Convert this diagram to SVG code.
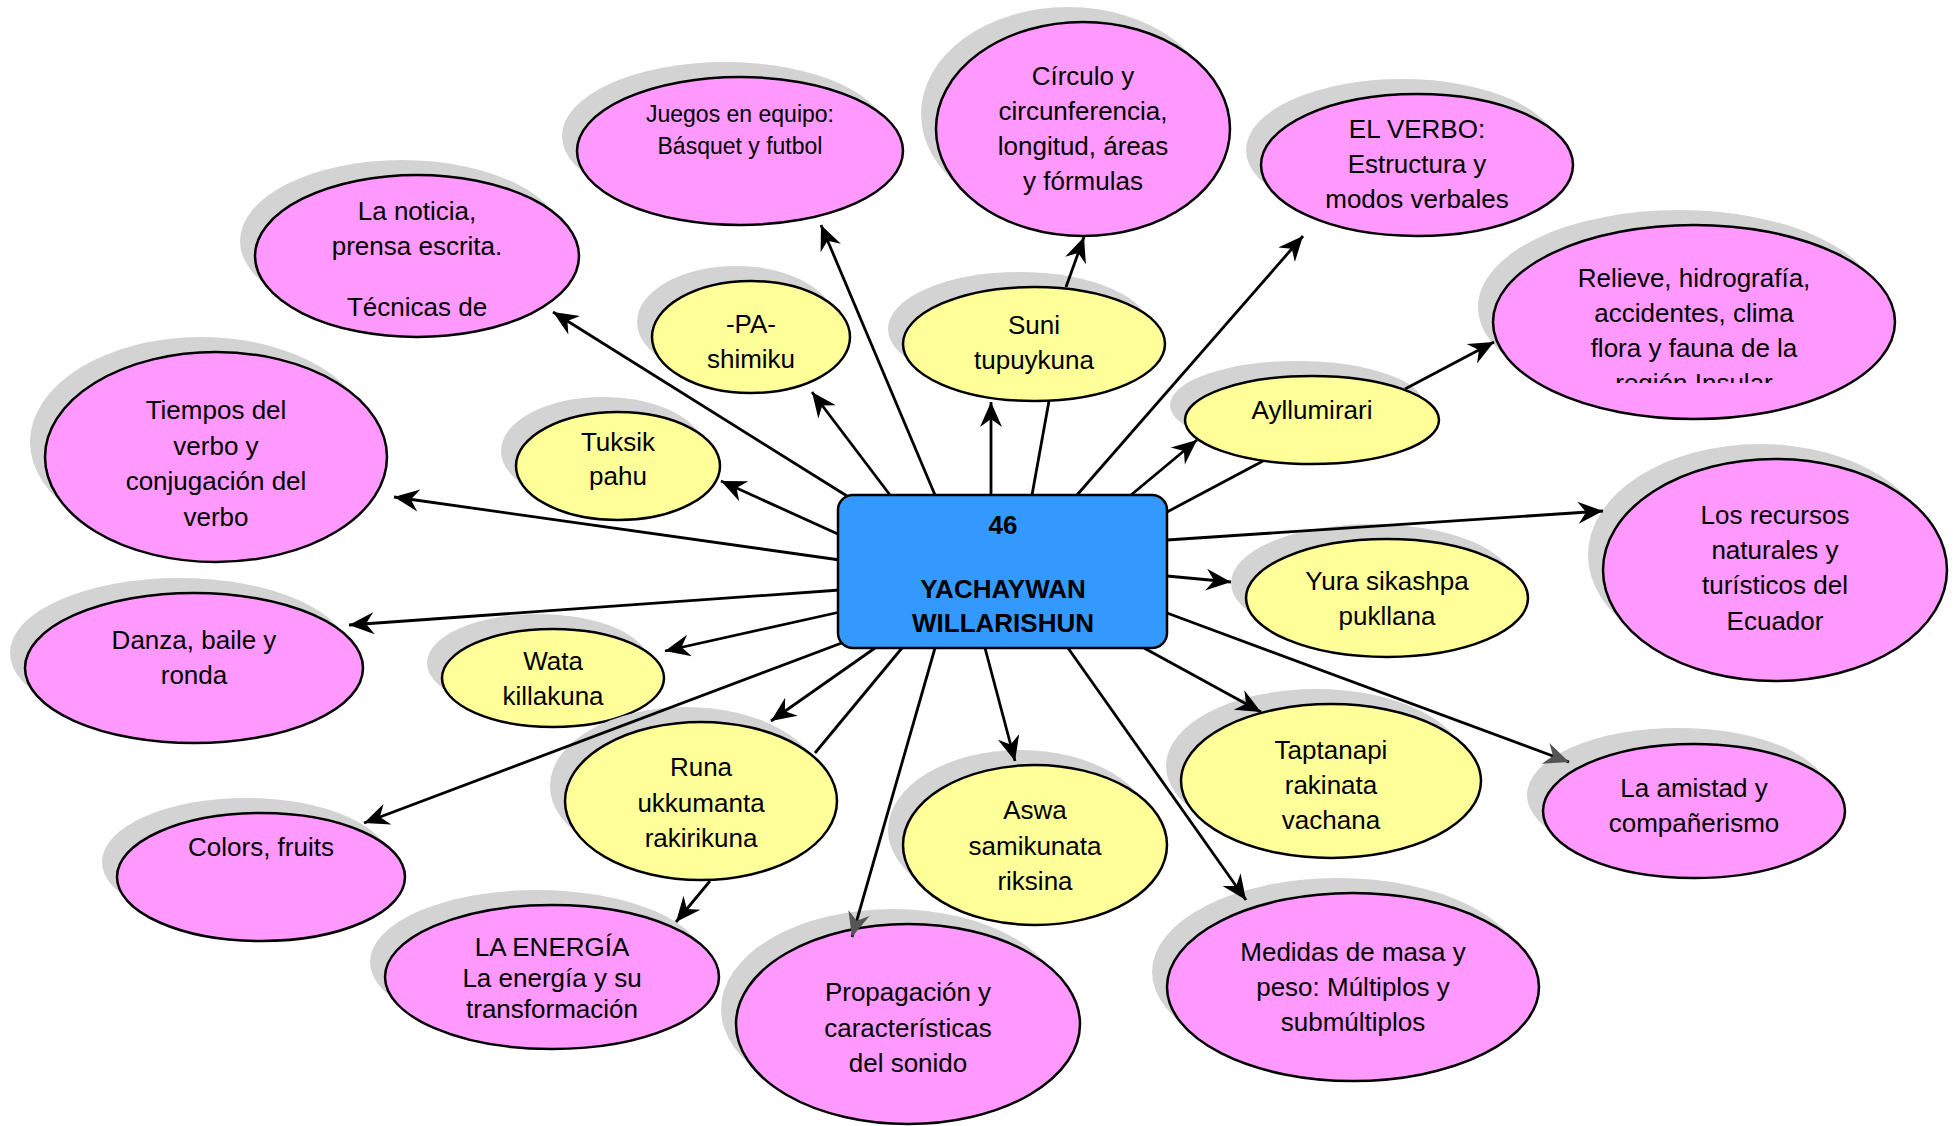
<svg xmlns="http://www.w3.org/2000/svg" width="1959" height="1126" viewBox="0 0 1959 1126">
<style>
  .sh { fill: #d3d3d3; }
  .pk { fill: #ff99ff; stroke: #000; stroke-width: 2.5; }
  .yl { fill: #ffff99; stroke: #000; stroke-width: 2.5; }
  .t { font-family: "Liberation Sans", Arial, sans-serif; font-size: 26px; fill: #000; text-anchor: middle; }
  .ts { font-size: 23px; }
  .tb { font-weight: bold; }
  .c { stroke: #000; stroke-width: 2.8; fill: none; }
  .a { marker-end: url(#arr); }
  .ag { marker-end: url(#arrg); }
</style>
<defs>
  <marker id="arr" markerUnits="userSpaceOnUse" viewBox="-26 -12 28 24" refX="0" refY="0" markerWidth="28" markerHeight="24" orient="auto" overflow="visible">
    <path d="M0,0 L-25,-11 L-17,0 L-25,11 Z" fill="#000"/>
  </marker>
  <marker id="arrg" markerUnits="userSpaceOnUse" viewBox="-26 -12 28 24" refX="0" refY="0" markerWidth="28" markerHeight="24" orient="auto" overflow="visible">
    <path d="M0,0 L-25,-11 L-17,0 L-25,11 Z" fill="#555"/>
  </marker>
  <clipPath id="clipRelieve"><rect x="1480" y="220" width="430" height="163"/></clipPath>
  <clipPath id="clipTiempos"><rect x="30" y="340" width="380" height="186"/></clipPath>
</defs>
<rect width="1959" height="1126" fill="#fff"/>

<g id="n-juegos">
  <ellipse class="sh" cx="725" cy="136" rx="163" ry="74"/>
  <ellipse class="pk" cx="740" cy="151" rx="163" ry="74"/>
  <text class="t ts"><tspan x="740" y="122">Juegos en equipo:</tspan><tspan x="740" y="154">Básquet y futbol</tspan></text>
</g>
<g id="n-circulo">
  <ellipse class="sh" cx="1068" cy="114" rx="147" ry="107"/>
  <ellipse class="pk" cx="1083" cy="129" rx="147" ry="107"/>
  <text class="t"><tspan x="1083" y="85">Círculo y</tspan><tspan x="1083" y="120">circunferencia,</tspan><tspan x="1083" y="155">longitud, áreas</tspan><tspan x="1083" y="190">y fórmulas</tspan></text>
</g>
<g id="n-verbo">
  <ellipse class="sh" cx="1402" cy="150" rx="156" ry="71"/>
  <ellipse class="pk" cx="1417" cy="165" rx="156" ry="71"/>
  <text class="t"><tspan x="1417" y="138">EL VERBO:</tspan><tspan x="1417" y="173">Estructura y</tspan><tspan x="1417" y="208">modos verbales</tspan></text>
</g>
<g id="n-noticia">
  <ellipse class="sh" cx="402" cy="241" rx="162" ry="81"/>
  <ellipse class="pk" cx="417" cy="256" rx="162" ry="81"/>
  <text class="t"><tspan x="417" y="220">La noticia,</tspan><tspan x="417" y="255">prensa escrita.</tspan><tspan x="417" y="316">Técnicas de</tspan></text>
</g>
<g id="n-pa">
  <ellipse class="sh" cx="736" cy="322" rx="99" ry="56"/>
  <ellipse class="yl" cx="751" cy="337" rx="99" ry="56"/>
  <text class="t"><tspan x="751" y="333">-PA-</tspan><tspan x="751" y="368">shimiku</tspan></text>
</g>
<g id="n-suni">
  <ellipse class="sh" cx="1019" cy="329" rx="131" ry="57"/>
  <ellipse class="yl" cx="1034" cy="344" rx="131" ry="57"/>
  <text class="t"><tspan x="1034" y="334">Suni</tspan><tspan x="1034" y="369">tupuykuna</tspan></text>
</g>
<g id="n-relieve">
  <ellipse class="sh" cx="1679" cy="307" rx="201" ry="97"/>
  <ellipse class="pk" cx="1694" cy="322" rx="201" ry="97"/>
  <text class="t" clip-path="url(#clipRelieve)"><tspan x="1694" y="287">Relieve, hidrografía,</tspan><tspan x="1694" y="322">accidentes, clima</tspan><tspan x="1694" y="357">flora y fauna de la</tspan><tspan x="1694" y="392">región Insular</tspan></text>
</g>
<g id="n-ayllu">
  <ellipse class="sh" cx="1297" cy="405" rx="127" ry="44"/>
  <ellipse class="yl" cx="1312" cy="420" rx="127" ry="44"/>
  <text class="t"><tspan x="1312" y="419">Ayllumirari</tspan></text>
</g>
<g id="n-tiempos">
  <ellipse class="sh" cx="201" cy="442" rx="171" ry="105"/>
  <ellipse class="pk" cx="216" cy="457" rx="171" ry="105"/>
  <text class="t" clip-path="url(#clipTiempos)"><tspan x="216" y="419">Tiempos del</tspan><tspan x="216" y="455">verbo y</tspan><tspan x="216" y="490">conjugación del</tspan><tspan x="216" y="526">verbo</tspan></text>
</g>
<g id="n-tuksik">
  <ellipse class="sh" cx="603" cy="451" rx="102" ry="54"/>
  <ellipse class="yl" cx="618" cy="466" rx="102" ry="54"/>
  <text class="t"><tspan x="618" y="451">Tuksik</tspan><tspan x="618" y="485">pahu</tspan></text>
</g>
<g id="n-recursos">
  <ellipse class="sh" cx="1760" cy="555" rx="172" ry="111"/>
  <ellipse class="pk" cx="1775" cy="570" rx="172" ry="111"/>
  <text class="t"><tspan x="1775" y="524">Los recursos</tspan><tspan x="1775" y="559">naturales y</tspan><tspan x="1775" y="594">turísticos del</tspan><tspan x="1775" y="630">Ecuador</tspan></text>
</g>
<g id="n-yura">
  <ellipse class="sh" cx="1372" cy="583" rx="141" ry="59"/>
  <ellipse class="yl" cx="1387" cy="598" rx="141" ry="59"/>
  <text class="t"><tspan x="1387" y="590">Yura sikashpa</tspan><tspan x="1387" y="625">pukllana</tspan></text>
</g>
<g id="n-danza">
  <ellipse class="sh" cx="179" cy="653" rx="169" ry="75"/>
  <ellipse class="pk" cx="194" cy="668" rx="169" ry="75"/>
  <text class="t"><tspan x="194" y="649">Danza, baile y</tspan><tspan x="194" y="684">ronda</tspan></text>
</g>
<g id="n-wata">
  <ellipse class="sh" cx="538" cy="663" rx="111" ry="49"/>
  <ellipse class="yl" cx="553" cy="678" rx="111" ry="49"/>
  <text class="t"><tspan x="553" y="670">Wata</tspan><tspan x="553" y="705">killakuna</tspan></text>
</g>
<g id="n-runa">
  <ellipse class="sh" cx="686" cy="786" rx="136" ry="79"/>
  <ellipse class="yl" cx="701" cy="801" rx="136" ry="79"/>
  <text class="t"><tspan x="701" y="776">Runa</tspan><tspan x="701" y="812">ukkumanta</tspan><tspan x="701" y="847">rakirikuna</tspan></text>
</g>
<g id="n-colors">
  <ellipse class="sh" cx="246" cy="862" rx="144" ry="64"/>
  <ellipse class="pk" cx="261" cy="877" rx="144" ry="64"/>
  <text class="t"><tspan x="261" y="856">Colors, fruits</tspan></text>
</g>
<g id="n-aswa">
  <ellipse class="sh" cx="1020" cy="830" rx="132" ry="80"/>
  <ellipse class="yl" cx="1035" cy="845" rx="132" ry="80"/>
  <text class="t"><tspan x="1035" y="819">Aswa</tspan><tspan x="1035" y="855">samikunata</tspan><tspan x="1035" y="890">riksina</tspan></text>
</g>
<g id="n-taptanapi">
  <ellipse class="sh" cx="1316" cy="766" rx="150" ry="77"/>
  <ellipse class="yl" cx="1331" cy="781" rx="150" ry="77"/>
  <text class="t"><tspan x="1331" y="759">Taptanapi</tspan><tspan x="1331" y="794">rakinata</tspan><tspan x="1331" y="829">vachana</tspan></text>
</g>
<g id="n-amistad">
  <ellipse class="sh" cx="1678" cy="795" rx="151" ry="67"/>
  <ellipse class="pk" cx="1694" cy="811" rx="151" ry="67"/>
  <text class="t"><tspan x="1694" y="797">La amistad y</tspan><tspan x="1694" y="832">compañerismo</tspan></text>
</g>
<g id="n-energia">
  <ellipse class="sh" cx="537" cy="962" rx="167" ry="72"/>
  <ellipse class="pk" cx="552" cy="977" rx="167" ry="72"/>
  <text class="t"><tspan x="552" y="956">LA ENERGÍA</tspan><tspan x="552" y="987">La energía y su</tspan><tspan x="552" y="1018">transformación</tspan></text>
</g>
<g id="n-propagacion">
  <ellipse class="sh" cx="893" cy="1009" rx="172" ry="100"/>
  <ellipse class="pk" cx="908" cy="1024" rx="172" ry="100"/>
  <text class="t"><tspan x="908" y="1001">Propagación y</tspan><tspan x="908" y="1037">características</tspan><tspan x="908" y="1072">del sonido</tspan></text>
</g>
<g id="n-medidas">
  <ellipse class="sh" cx="1338" cy="972" rx="186" ry="94"/>
  <ellipse class="pk" cx="1353" cy="987" rx="186" ry="94"/>
  <text class="t"><tspan x="1353" y="961">Medidas de masa y</tspan><tspan x="1353" y="996">peso: Múltiplos y</tspan><tspan x="1353" y="1031">submúltiplos</tspan></text>
</g>

<g id="connectors">
  <line class="c a" x1="847" y1="496" x2="553" y2="312"/>
  <line class="c a" x1="935" y1="495" x2="821" y2="225"/>
  <line class="c a" x1="890" y1="495" x2="812" y2="392"/>
  <line class="c a" x1="991" y1="495" x2="991" y2="402"/>
  <line class="c" x1="1032" y1="495" x2="1049" y2="401"/>
  <line class="c a" x1="1066" y1="287" x2="1084" y2="237"/>
  <line class="c a" x1="1077" y1="495" x2="1303" y2="236"/>
  <line class="c a" x1="1131" y1="495" x2="1197" y2="440"/>
  <line class="c" x1="1167" y1="512" x2="1263" y2="461"/>
  <line class="c a" x1="1405" y1="389" x2="1494" y2="342"/>
  <line class="c a" x1="840" y1="535" x2="721" y2="481"/>
  <line class="c a" x1="840" y1="560" x2="394" y2="497"/>
  <line class="c a" x1="1167" y1="540" x2="1603" y2="511"/>
  <line class="c a" x1="1167" y1="576" x2="1231" y2="582"/>
  <line class="c a" x1="840" y1="590" x2="349" y2="625"/>
  <line class="c a" x1="840" y1="612" x2="665" y2="651"/>
  <line class="c a" x1="847" y1="641" x2="364" y2="823"/>
  <line class="c a" x1="875" y1="648" x2="771" y2="721"/>
  <line class="c" x1="902" y1="648" x2="815" y2="753"/>
  <line class="c a" x1="710" y1="881" x2="676" y2="922"/>
  <line class="c ag" x1="935" y1="648" x2="852" y2="937"/>
  <line class="c a" x1="985" y1="648" x2="1015" y2="761"/>
  <line class="c a" x1="1068" y1="648" x2="1246" y2="900"/>
  <line class="c a" x1="1144" y1="648" x2="1261" y2="712"/>
  <line class="c ag" x1="1167" y1="613" x2="1569" y2="762"/>
</g>

<g id="n-center">
  <rect x="838" y="495" width="329" height="153" rx="15" ry="15" fill="#3399ff" stroke="#000" stroke-width="2.5"/>
  <text class="t tb"><tspan x="1003" y="534">46</tspan><tspan x="1003" y="598">YACHAYWAN</tspan><tspan x="1003" y="632">WILLARISHUN</tspan></text>
</g>
</svg>
